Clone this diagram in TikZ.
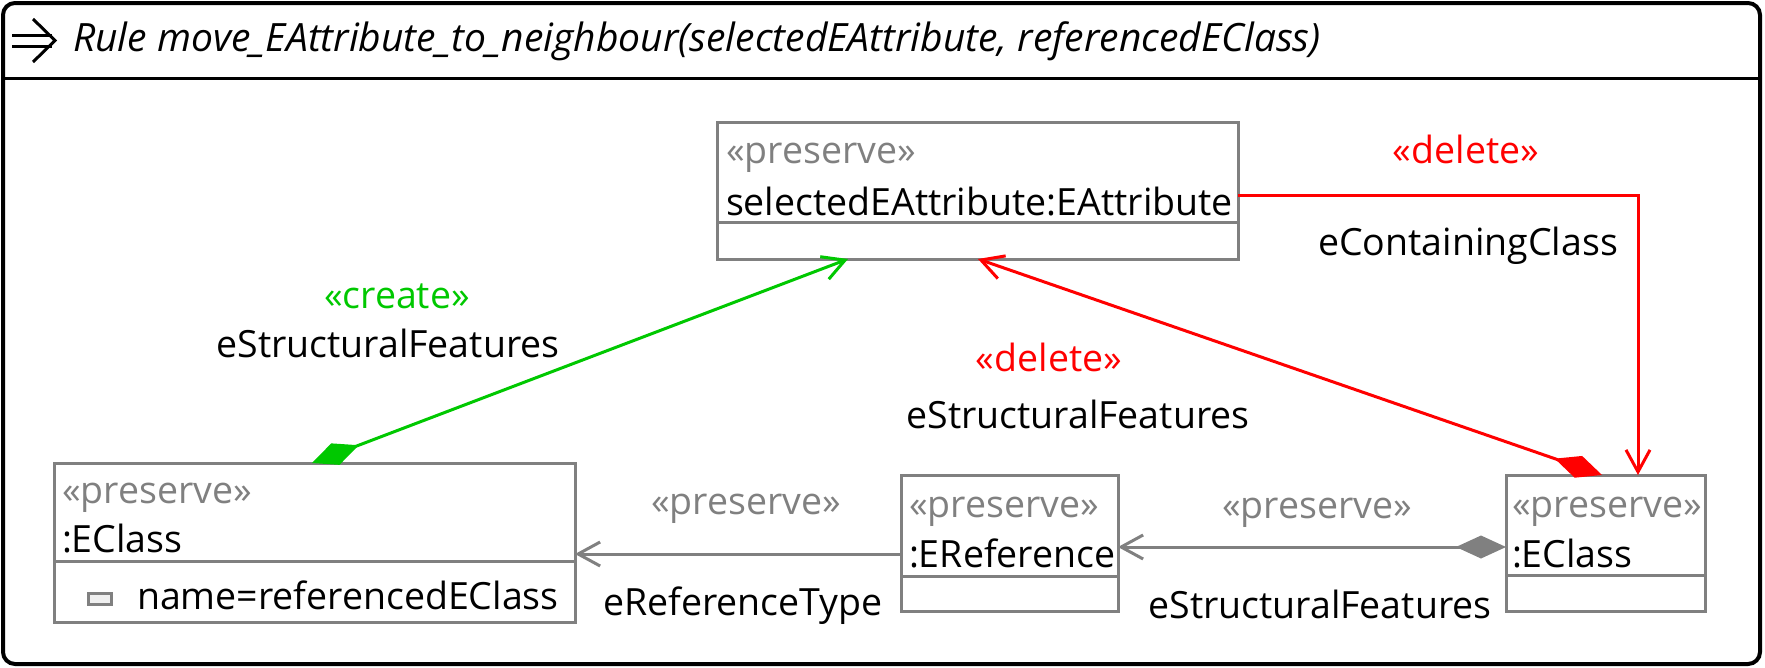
\documentclass[tikz,border=0pt]{standalone}
\usepackage{fontspec}
\setmainfont{Open Sans}
\usetikzlibrary{arrows.meta}
\definecolor{hgray}{RGB}{128,128,128}
\definecolor{hgreen}{RGB}{0,200,0}
\definecolor{hred}{RGB}{255,0,0}
\begin{document}
\begin{tikzpicture}[x=1pt,y=-1pt,
  boxst/.style={draw=hgray,line width=3pt,fill=white,inner sep=0pt,outer sep=0pt,anchor=north west},
  sepline/.style={draw=hgray,line width=3pt},
  txt/.style={inner sep=0pt,outer sep=0pt,anchor=base west,font=\fontsize{37.5}{44}\selectfont},
  ster/.style={txt,text=hgray},
  lbl/.style={inner sep=0pt,outer sep=0pt,anchor=base,font=\fontsize{37.5}{44}\selectfont},
  conn/.style={line width=3pt},
  openhead/.style={-{Straight Barb[length=22pt,width=24pt]}},
  comphead/.style={{Diamond[length=50pt,width=23pt]}-{Straight Barb[length=22pt,width=24pt]}}
]
\useasboundingbox (0,0) rectangle (1765,667);
% frame
\draw[line width=4pt,rounded corners=12pt] (3,3) rectangle (1760,664);
\draw[line width=3pt] (3,78) -- (1760,78);
% title arrow
\draw[line width=3pt] (12,35) -- (52,35) (12,46) -- (52,46);
\draw[line width=3pt] (33,19) -- (55,40.5) -- (33,62);
\node[inner sep=0pt,anchor=base west,font=\itshape\fontsize{39}{46}\selectfont] (title) at (73,51) {Rule move\_EAttribute\_to\_neighbour(selectedEAttribute, referencedEClass)};

% boxes
\node[boxst,minimum width=521pt,minimum height=137pt] (A) at (717,122) {};
\draw[sepline] (A.west |- 0,222) -- (A.east |- 0,222);
\node[ster] (As) at (726,163) {«preserve»};
\node[txt] (An) at (726,215) {selectedEAttribute:EAttribute};

\node[boxst,minimum width=521pt,minimum height=159pt] (B) at (54,463) {};
\draw[sepline] (B.west |- 0,561) -- (B.east |- 0,561);
\node[ster] (Bs) at (62,503) {«preserve»};
\node[txt] (Bn) at (62,552) {:EClass};
\node[draw=hgray,fill=black!6,line width=2.5pt,minimum width=23pt,minimum height=11pt,inner sep=0pt,anchor=north west] (icon) at (87,592) {};
\node[txt] (Ba) at (137,609) {name=referencedEClass};

\node[boxst,minimum width=217pt,minimum height=136pt] (C) at (901,475) {};
\draw[sepline] (C.west |- 0,576) -- (C.east |- 0,576);
\node[ster] (Cs) at (909,517) {«preserve»};
\node[txt] (Cn) at (909,567) {:EReference};

\node[boxst,minimum width=199pt,minimum height=136pt] (D) at (1506,475) {};
\draw[sepline] (D.west |- 0,575) -- (D.east |- 0,575);
\node[ster] (Ds) at (1512,517) {«preserve»};
\node[txt] (Dn) at (1512,567) {:EClass};

% connectors
\draw[conn,hgreen,comphead] (B.north -| 312,0) -- (A.south -| 848,0);
\draw[conn,hred,comphead] (D.north -| 1602,0) -- (A.south -| 978,0);
\draw[conn,hred,openhead] (A.east |- 0,195) -| (D.north -| 1638,0);
\draw[conn,hgray,comphead] (D.west |- 0,547) -- (C.east |- 0,547);
\draw[conn,hgray,openhead] (C.west |- 0,554) -- (B.east |- 0,554);

% labels
\node[lbl,text=hgreen] (l1) at (397,308) {«create»};
\node[lbl] (l2) at (388,357) {eStructuralFeatures};
\node[lbl,text=hred] (l3) at (1049,371) {«delete»};
\node[lbl] (l4) at (1078,428) {eStructuralFeatures};
\node[lbl,text=hred] (l5) at (1466,163) {«delete»};
\node[lbl] (l6) at (1468,255) {eContainingClass};
\node[lbl,text=hgray] (l7) at (1317,518) {«preserve»};
\node[lbl] (l8) at (1320,618) {eStructuralFeatures};
\node[lbl,text=hgray] (l9) at (746,514) {«preserve»};
\node[lbl] (l10) at (743,615) {eReferenceType};
\end{tikzpicture}
\end{document}
